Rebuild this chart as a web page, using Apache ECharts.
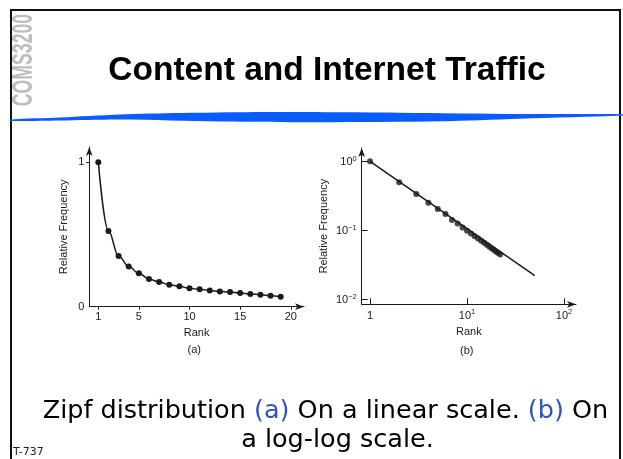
<!DOCTYPE html>
<html>
<head>
<meta charset="utf-8">
<script src="https://cdn.jsdelivr.net/npm/echarts@6/dist/echarts.min.js"></script>
<style>
  html, body { margin: 0; padding: 0; background: #fff; }
  #chart { width: 623px; height: 459px; }
</style>
</head>
<body>
<div id="chart"></div>
<script>
// (a) linear scale
const linRank = [1, 2, 3, 4, 5, 6, 7, 8, 9, 10, 11, 12, 13, 14, 15, 16, 17, 18, 19];
const linFreq = [1.0, 0.524, 0.351, 0.279, 0.231, 0.192, 0.171, 0.152, 0.141, 0.127,
                 0.120, 0.113, 0.106, 0.102, 0.095, 0.088, 0.083, 0.076, 0.069];
const linXTicks = [1, 5, 10, 15, 20];
const linYTicks = [0, 1];

// (b) log-log scale
const logRank = [1, 2, 3, 4, 5, 6, 7, 8, 9, 10, 11, 12, 13, 14, 15, 16, 17, 18, 19, 20, 21, 22];
const logFreq = [1.0, 0.496, 0.336, 0.251, 0.204, 0.172, 0.141, 0.126, 0.110, 0.0986,
                 0.090, 0.0824, 0.0763, 0.0705, 0.0659, 0.0616, 0.058, 0.0547, 0.0518,
                 0.0491, 0.0468, 0.0446];
const fitRank = [1, 50];
const fitFreq = [1.0, 0.022];
const logXTicks = [1, 10, 100];
const logXLabels = ["1", "10^1", "10^2"];
const logYTicks = [1, 0.1, 0.01];
const logYLabels = ["10^0", "10^\u22121", "10^\u22122"];

const ink = "#1a1a1a";
const font = "Liberation Sans";

function pairs(xs, ys) {
  return xs.map((x, i) => [x, ys[i]]);
}

function powLabel(ticks, labels) {
  return (v) => {
    const i = ticks.findIndex((t) => Math.abs(v - t) / t < 1e-6);
    if (i < 0) return "";
    const [base, exp] = labels[i].split("^");
    return exp ? "{m|" + base + "}{s|" + exp + "}" : "{m|" + base + "}";
  };
}

const richPow = {
  m: { fontSize: 11, fontFamily: font, color: ink, lineHeight: 13, verticalAlign: "bottom" },
  s: { fontSize: 7.5, fontFamily: font, color: ink, verticalAlign: "top" },
};

const axisLine = {
  lineStyle: { color: ink, width: 1 },
  symbol: ["none", "arrow"],
  symbolSize: [5, 9],
};
const nameStyle = { fontSize: 11, fontFamily: font, color: ink };

const chart = echarts.init(document.getElementById("chart"), null, { renderer: "canvas" });

chart.setOption({
  animation: false,
  backgroundColor: "#fff",
  grid: [
    { left: 89.3, top: 147, width: 214.7, height: 159.7, outerBoundsMode: "none" },
    { left: 361.7, top: 148, width: 214.3, height: 156.3, outerBoundsMode: "none" },
  ],
  xAxis: [
    {
      gridIndex: 0,
      type: "value",
      min: 0.11,
      max: 21.3,
      axisLine,
      splitLine: { show: false },
      axisTick: { show: true, inside: false, length: 3, customValues: linXTicks, lineStyle: { color: ink } },
      axisLabel: { customValues: linXTicks, margin: 5, fontSize: 11, fontFamily: font, color: ink },
      name: "Rank",
      nameLocation: "middle",
      nameGap: 21,
      nameTextStyle: nameStyle,
    },
    {
      gridIndex: 1,
      type: "log",
      min: 0.821,
      max: 133,
      axisLine,
      splitLine: { show: false },
      minorTick: { show: false },
      axisTick: { show: true, inside: true, length: 6, customValues: logXTicks, lineStyle: { color: ink } },
      axisLabel: {
        customValues: logXTicks,
        margin: 4,
        formatter: powLabel(logXTicks, logXLabels),
        rich: richPow,
      },
      name: "Rank",
      nameLocation: "middle",
      nameGap: 22,
      nameTextStyle: nameStyle,
    },
  ],
  yAxis: [
    {
      gridIndex: 0,
      type: "value",
      min: 0,
      max: 1.106,
      axisLine,
      splitLine: { show: false },
      axisTick: { show: true, inside: false, length: 3, customValues: [1], lineStyle: { color: ink } },
      axisLabel: { customValues: linYTicks, margin: 5, fontSize: 11, fontFamily: font, color: ink },
      name: "Relative Frequency",
      nameLocation: "middle",
      nameRotate: 90,
      nameGap: 20,
      nameTextStyle: nameStyle,
    },
    {
      gridIndex: 1,
      type: "log",
      min: 0.00847,
      max: 1.56,
      axisLine,
      splitLine: { show: false },
      minorTick: { show: false },
      axisTick: { show: true, inside: true, length: 6, customValues: logYTicks, lineStyle: { color: ink } },
      axisLabel: {
        customValues: logYTicks,
        margin: 5,
        formatter: powLabel(logYTicks, logYLabels),
        rich: richPow,
      },
      name: "Relative Frequency",
      nameLocation: "middle",
      nameRotate: 90,
      nameGap: 32,
      nameTextStyle: nameStyle,
    },
  ],
  series: [
    {
      type: "line",
      xAxisIndex: 0,
      yAxisIndex: 0,
      data: pairs(linRank, linFreq),
      smooth: 0.4,
      smoothMonotone: "x",
      symbol: "circle",
      symbolSize: 6,
      showSymbol: true,
      lineStyle: { color: ink, width: 1.5 },
      itemStyle: { color: ink },
    },
    {
      type: "line",
      xAxisIndex: 1,
      yAxisIndex: 1,
      data: pairs(fitRank, fitFreq),
      showSymbol: false,
      lineStyle: { color: ink, width: 1.5 },
    },
    {
      type: "scatter",
      xAxisIndex: 1,
      yAxisIndex: 1,
      data: pairs(logRank, logFreq),
      symbol: "circle",
      symbolSize: 6,
      itemStyle: { color: ink },
    },
  ],
  graphic: [
    // slide frame
    {
      type: "rect",
      shape: { x: 11, y: 10, width: 609, height: 470 },
      style: { fill: null, stroke: "#111", lineWidth: 2 },
      silent: true,
    },
    // vertical course tag
    {
      type: "text",
      x: 24,
      y: 60,
      rotation: Math.PI / 2,
      scaleX: 0.68,
      scaleY: 1.1,
      style: {
        text: "COMS3200",
        font: "bold 26px 'Liberation Sans'",
        fill: "#bdbdbd",
        align: "center",
        verticalAlign: "middle",
      },
    },
    // title
    {
      type: "text",
      x: 327,
      y: 70.5,
      style: {
        text: "Content and Internet Traffic",
        font: "bold 33.5px 'Liberation Sans'",
        fill: "#000",
        align: "center",
        verticalAlign: "middle",
      },
    },
    // blue swoosh
    {
      type: "polygon",
      shape: {
        points: [
          [10, 119.5], [60, 117.5], [120, 114.5], [180, 113], [280, 112], [400, 112.7],
          [520, 114], [623, 114.2], [623, 115.6], [520, 118.7], [440, 121.3], [320, 122.2],
          [220, 121.5], [120, 119.5], [60, 120.5], [10, 121],
        ],
        smooth: 0.3,
      },
      style: { fill: "#0a5cff" },
    },
    // sub captions
    {
      type: "text",
      x: 194.3,
      y: 350,
      style: { text: "(a)", font: "11px 'Liberation Sans'", fill: ink, align: "center", verticalAlign: "middle" },
    },
    {
      type: "text",
      x: 466.7,
      y: 350.7,
      style: { text: "(b)", font: "11px 'Liberation Sans'", fill: ink, align: "center", verticalAlign: "middle" },
    },
    // slide caption
    {
      type: "text",
      x: 325.5,
      y: 411,
      style: {
        text: "Zipf distribution {b|(a)} On a linear scale. {b|(b)} On",
        font: "25.5px 'DejaVu Sans'",
        fill: "#000",
        align: "center",
        verticalAlign: "middle",
        rich: { b: { fill: "#2f52c8", fontSize: 25.5, fontFamily: "DejaVu Sans" } },
      },
    },
    {
      type: "text",
      x: 337.5,
      y: 440,
      style: {
        text: "a log-log scale.",
        font: "25.5px 'DejaVu Sans'",
        fill: "#000",
        align: "center",
        verticalAlign: "middle",
      },
    },
    {
      type: "text",
      x: 13,
      y: 447,
      style: { text: "T-737", font: "11px 'DejaVu Sans'", fill: "#222", align: "left", verticalAlign: "top" },
    },
  ],
});

window.addEventListener("resize", () => chart.resize());
</script>
</body>
</html>
